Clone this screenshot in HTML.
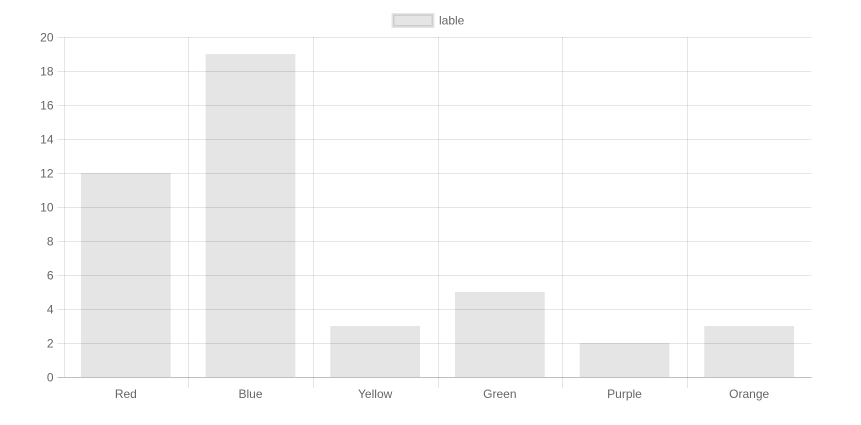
<!DOCTYPE html>
<html><head><meta charset="utf-8"><style>
html,body{margin:0;padding:0;background:#fff;width:861px;height:425px;overflow:hidden}
svg text{font-family:"Liberation Sans",Arial,sans-serif;font-size:12px;fill:#666}
</style></head><body>
<svg id="chart" width="861" height="425" xmlns="http://www.w3.org/2000/svg">
<g id="grid"></g>
<g id="bars"></g>
<g id="axes"></g>
<g>
<rect x="393" y="14.5" width="40" height="12" fill="rgba(0,0,0,0.1)" stroke="rgba(0,0,0,0.1)" stroke-width="3"/>
<text x="439" y="24.5">lable</text>
</g>
</svg>
<script>
const categories=["Red","Blue","Yellow","Green","Purple","Orange"];
const values=[12,19,3,5,2,3];
const yTicks=[0,2,4,6,8,10,12,14,16,18,20];
const NS="http://www.w3.org/2000/svg";
const L=63.5,R=811.5,T=37,B=377,yMax=20;
const y=v=>B-(v/yMax)*(B-T);
const bw=(R-L)/categories.length;
const x=i=>L+i*bw;
function mk(tag,attrs,parent,txt){const e=document.createElementNS(NS,tag);for(const k in attrs)e.setAttribute(k,attrs[k]);if(txt!==undefined)e.textContent=txt;parent.appendChild(e);return e;}
const grid=document.getElementById('grid'),bars=document.getElementById('bars'),axes=document.getElementById('axes');
yTicks.forEach(t=>{
  const yy=Math.round(y(t))+0.5;
  const ln=mk('line',{x1:L-6,x2:R,y1:yy,y2:yy,stroke:t===0?'rgba(0,0,0,0.25)':'rgba(0,0,0,0.1)','stroke-width':1},t===0?axes:grid);
  
  
  const tx=mk('text',{x:L-10,y:yy+4,'text-anchor':'end'},axes,String(t));
  
  
});
for(let i=0;i<categories.length;i++){
  const xx=Math.round(x(i))+0.5;
  const ln=mk('line',{x1:xx,x2:xx,y1:T,y2:i===0?B:B+11,stroke:'rgba(0,0,0,0.1)','stroke-width':1},grid);
  
  
}
categories.forEach((c,i)=>{
  const w=bw*0.72,cx=x(i)+bw/2;
  const r=mk('rect',{x:cx-w/2,y:y(values[i]),width:w,height:B-y(values[i]),fill:'rgba(0,0,0,0.1)'},bars);
  
  
  const tx=mk('text',{x:cx,y:B+21,'text-anchor':'middle'},axes,c);
  
  
});
</script>
</body></html>
